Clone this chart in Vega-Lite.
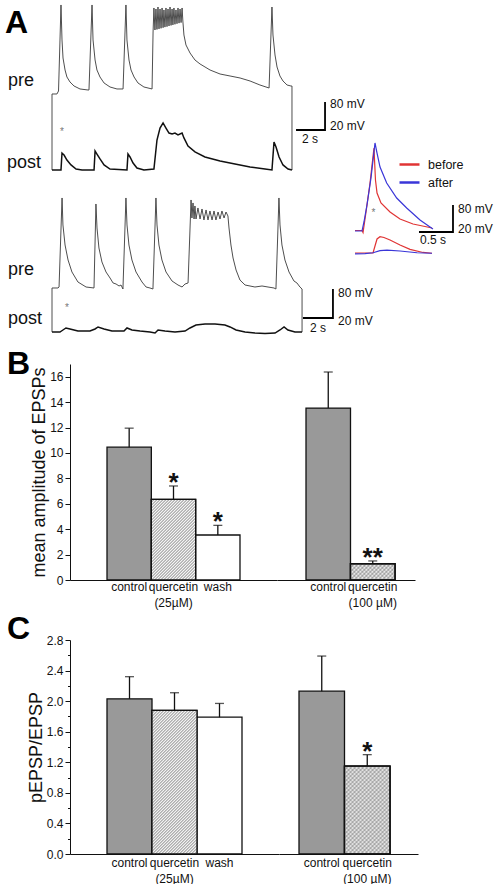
{
"$schema":"https://vega.github.io/schema/vega-lite/v6.json",
"background":"white",
"padding":{"left":5,"top":0,"right":0,"bottom":0},
"bounds":"flush",
"spacing":60,
"config":{"view":{"stroke":null},"font":"Liberation Sans","axis":{"labelFont":"Liberation Sans","titleFont":"Liberation Sans"},"axisY":{"labelOverlap":false,"labelBound":false},"legend":{"labelFont":"Liberation Sans"},"title":{"font":"Liberation Sans"}},
"datasets":{
"pre1":[{"t":0,"v":-228.6},{"t":0,"v":-11.4},{"t":0.34,"v":-11.4},{"t":0.45,"v":-2.9},{"t":0.62,"v":242.9},{"t":0.69,"v":142.9},{"t":0.76,"v":91.4},{"t":0.9,"v":57.1},{"t":1.03,"v":37.1},{"t":1.24,"v":22.9},{"t":1.52,"v":11.4},{"t":1.93,"v":2.9},{"t":2.48,"v":0},{"t":2.55,"v":0},{"t":2.76,"v":242.9},{"t":2.83,"v":142.9},{"t":2.97,"v":85.7},{"t":3.1,"v":57.1},{"t":3.31,"v":37.1},{"t":3.59,"v":20},{"t":4.0,"v":8.6},{"t":4.48,"v":2.9},{"t":4.9,"v":2.9},{"t":5.1,"v":242.9},{"t":5.17,"v":142.9},{"t":5.31,"v":85.7},{"t":5.45,"v":57.1},{"t":5.66,"v":37.1},{"t":5.93,"v":20},{"t":6.34,"v":8.6},{"t":6.9,"v":2.9},{"t":6.97,"v":165.7},{"t":7.03,"v":234.3},{"t":7.1,"v":171.4},{"t":7.17,"v":231.4},{"t":7.24,"v":173.1},{"t":7.31,"v":237.1},{"t":7.38,"v":174.6},{"t":7.45,"v":231.4},{"t":7.52,"v":176.3},{"t":7.59,"v":234.3},{"t":7.66,"v":178},{"t":7.72,"v":228.6},{"t":7.79,"v":179.7},{"t":7.86,"v":234.3},{"t":7.93,"v":181.1},{"t":8.0,"v":231.4},{"t":8.07,"v":182.9},{"t":8.14,"v":237.1},{"t":8.21,"v":184.6},{"t":8.28,"v":231.4},{"t":8.34,"v":186},{"t":8.41,"v":234.3},{"t":8.48,"v":187.7},{"t":8.55,"v":228.6},{"t":8.62,"v":189.4},{"t":8.69,"v":234.3},{"t":8.76,"v":191.1},{"t":8.83,"v":231.4},{"t":8.9,"v":192.6},{"t":8.97,"v":234.3},{"t":9.03,"v":194.3},{"t":9.1,"v":157.1},{"t":9.24,"v":128.6},{"t":9.52,"v":105.7},{"t":9.86,"v":85.7},{"t":10.21,"v":74.3},{"t":10.9,"v":57.1},{"t":11.59,"v":45.7},{"t":12.28,"v":40},{"t":12.97,"v":34.3},{"t":13.66,"v":25.7},{"t":14.34,"v":14.3},{"t":14.97,"v":5.7},{"t":15.17,"v":237.1},{"t":15.24,"v":157.1},{"t":15.38,"v":100},{"t":15.52,"v":65.7},{"t":15.72,"v":40},{"t":15.93,"v":25.7},{"t":16.21,"v":14.3},{"t":16.48,"v":11.4},{"t":16.55,"v":11.4},{"t":16.55,"v":-228.6}],
"post1":[{"t":0,"v":0},{"t":0.62,"v":0},{"t":0.69,"v":12.1},{"t":0.83,"v":10.7},{"t":1.03,"v":7.1},{"t":1.31,"v":3.6},{"t":1.66,"v":0.7},{"t":2.07,"v":0},{"t":2.9,"v":0},{"t":2.97,"v":13.6},{"t":3.1,"v":11.4},{"t":3.31,"v":7.9},{"t":3.59,"v":3.6},{"t":4.0,"v":0.7},{"t":5.17,"v":0},{"t":5.24,"v":11.4},{"t":5.38,"v":9.3},{"t":5.59,"v":5},{"t":5.86,"v":1.4},{"t":6.34,"v":0},{"t":7.03,"v":0.7},{"t":7.24,"v":21.4},{"t":7.45,"v":30},{"t":7.66,"v":33.6},{"t":7.86,"v":30},{"t":8.07,"v":26.4},{"t":8.28,"v":25.7},{"t":8.48,"v":26.4},{"t":8.69,"v":25},{"t":8.97,"v":26.4},{"t":9.1,"v":22.9},{"t":9.38,"v":17.1},{"t":9.86,"v":12.9},{"t":10.55,"v":9.3},{"t":11.59,"v":6.4},{"t":12.62,"v":4.3},{"t":13.66,"v":2.1},{"t":14.69,"v":0.7},{"t":15.17,"v":0},{"t":15.31,"v":20},{"t":15.45,"v":16.4},{"t":15.66,"v":9.3},{"t":15.93,"v":3.6},{"t":16.28,"v":0.7},{"t":16.55,"v":0}],
"pre2":[{"t":0,"v":-118.6},{"t":0,"v":2.8},{"t":0.4,"v":2.8},{"t":0.47,"v":5.5},{"t":0.67,"v":251.1},{"t":0.73,"v":176.6},{"t":0.87,"v":121.4},{"t":1.07,"v":80},{"t":1.33,"v":46.9},{"t":1.73,"v":19.3},{"t":2.27,"v":5.5},{"t":2.8,"v":2.8},{"t":2.93,"v":234.5},{"t":3.0,"v":168.3},{"t":3.13,"v":113.1},{"t":3.33,"v":74.5},{"t":3.6,"v":46.9},{"t":3.87,"v":30.3},{"t":4.07,"v":16.6},{"t":4.27,"v":13.8},{"t":4.47,"v":8.3},{"t":4.6,"v":11},{"t":4.73,"v":0},{"t":4.93,"v":251.1},{"t":5.0,"v":176.6},{"t":5.13,"v":121.4},{"t":5.33,"v":80},{"t":5.6,"v":46.9},{"t":6.0,"v":19.3},{"t":6.27,"v":5.5},{"t":6.53,"v":2.8},{"t":6.73,"v":0},{"t":6.93,"v":251.1},{"t":7.0,"v":176.6},{"t":7.13,"v":121.4},{"t":7.33,"v":80},{"t":7.6,"v":46.9},{"t":8.0,"v":22.1},{"t":8.4,"v":11},{"t":8.67,"v":5.5},{"t":8.87,"v":13.8},{"t":9.07,"v":16.6},{"t":9.27,"v":245.6},{"t":9.33,"v":195.9},{"t":9.4,"v":237.3},{"t":9.47,"v":193.1},{"t":9.53,"v":229},{"t":9.6,"v":193.1},{"t":9.73,"v":223.5},{"t":9.87,"v":193.1},{"t":10.0,"v":220.7},{"t":10.13,"v":190.4},{"t":10.27,"v":218},{"t":10.4,"v":190.4},{"t":10.53,"v":215.2},{"t":10.67,"v":190.4},{"t":10.8,"v":215.2},{"t":10.93,"v":190.4},{"t":11.07,"v":212.4},{"t":11.2,"v":193.1},{"t":11.33,"v":215.2},{"t":11.47,"v":195.9},{"t":11.6,"v":212.4},{"t":11.73,"v":201.4},{"t":11.8,"v":168.3},{"t":11.93,"v":121.4},{"t":12.07,"v":85.5},{"t":12.27,"v":52.4},{"t":12.53,"v":24.8},{"t":12.87,"v":11},{"t":13.53,"v":5.5},{"t":14.0,"v":8.3},{"t":14.4,"v":5.5},{"t":14.8,"v":2.8},{"t":14.93,"v":0},{"t":15.13,"v":251.1},{"t":15.2,"v":176.6},{"t":15.33,"v":121.4},{"t":15.53,"v":80},{"t":15.8,"v":46.9},{"t":16.13,"v":22.1},{"t":16.33,"v":16.6},{"t":16.53,"v":5.5},{"t":16.67,"v":0},{"t":16.67,"v":-118.6}],
"post2":[{"t":0,"v":-1.4},{"t":0.53,"v":-1.4},{"t":0.73,"v":0},{"t":0.93,"v":1.4},{"t":1.2,"v":0.7},{"t":1.73,"v":-0.7},{"t":2.53,"v":-0.7},{"t":2.87,"v":0.7},{"t":3.07,"v":2.1},{"t":3.47,"v":0.7},{"t":4.0,"v":-0.7},{"t":4.8,"v":-0.7},{"t":5.0,"v":1.4},{"t":5.33,"v":0},{"t":5.87,"v":-0.7},{"t":6.53,"v":-1.4},{"t":6.87,"v":-2.1},{"t":7.07,"v":0},{"t":7.53,"v":-0.7},{"t":8.2,"v":-1.4},{"t":8.87,"v":-0.7},{"t":9.2,"v":1.4},{"t":9.6,"v":3.4},{"t":10.2,"v":4.1},{"t":10.87,"v":4.1},{"t":11.53,"v":3.4},{"t":11.87,"v":2.1},{"t":12.27,"v":0},{"t":12.87,"v":-1.4},{"t":13.53,"v":-2.1},{"t":14.2,"v":-2.4},{"t":14.87,"v":-2.1},{"t":15.2,"v":0},{"t":15.47,"v":2.1},{"t":15.73,"v":0},{"t":16.2,"v":-1.4},{"t":16.67,"v":-1.4}],
"insetPre":[{"cond":"before","t":0,"v":0},{"cond":"before","t":0.103,"v":0},{"cond":"before","t":0.118,"v":-5.9},{"cond":"before","t":0.162,"v":54.8},{"cond":"before","t":0.221,"v":140.7},{"cond":"before","t":0.279,"v":244.4},{"cond":"before","t":0.301,"v":149.6},{"cond":"before","t":0.324,"v":111.1},{"cond":"before","t":0.382,"v":81.5},{"cond":"before","t":0.515,"v":54.8},{"cond":"before","t":0.662,"v":34.1},{"cond":"before","t":0.853,"v":19.3},{"cond":"before","t":1.029,"v":11.9},{"cond":"before","t":1.132,"v":7.4},
{"cond":"after","t":0,"v":-1.5},{"cond":"after","t":0.103,"v":-1.5},{"cond":"after","t":0.132,"v":25.2},{"cond":"after","t":0.176,"v":75.6},{"cond":"after","t":0.235,"v":155.6},{"cond":"after","t":0.294,"v":259.3},{"cond":"after","t":0.324,"v":229.6},{"cond":"after","t":0.368,"v":188.1},{"cond":"after","t":0.466,"v":140.7},{"cond":"after","t":0.613,"v":96.3},{"cond":"after","t":0.76,"v":66.7},{"cond":"after","t":0.956,"v":31.1},{"cond":"after","t":1.103,"v":10.4},{"cond":"after","t":1.147,"v":4.4}],
"insetPost":[{"cond":"before","t":0,"v":0},{"cond":"before","t":0.265,"v":0},{"cond":"before","t":0.294,"v":5.2},{"cond":"before","t":0.324,"v":10.4},{"cond":"before","t":0.368,"v":12.1},{"cond":"before","t":0.426,"v":11.5},{"cond":"before","t":0.515,"v":9.6},{"cond":"before","t":0.662,"v":5.9},{"cond":"before","t":0.809,"v":2.7},{"cond":"before","t":1.0,"v":0.4},{"cond":"before","t":1.132,"v":-0.2},
{"cond":"after","t":0,"v":-0.7},{"cond":"after","t":0.147,"v":-0.4},{"cond":"after","t":0.265,"v":0.2},{"cond":"after","t":0.368,"v":1.7},{"cond":"after","t":0.471,"v":2.2},{"cond":"after","t":0.662,"v":1.5},{"cond":"after","t":0.912,"v":0.2},{"cond":"after","t":1.132,"v":-0.2}],
"bar1":[{"t":16.83,"v":-114.3},{"t":18.83,"v":-114.3},{"t":18.83,"v":-34.3}],
"bar2":[{"t":16.73,"v":-80},{"t":18.73,"v":-80},{"t":18.73,"v":0}],
"barI":[{"t":0.941,"v":-4.4},{"t":1.441,"v":-4.4},{"t":1.441,"v":75.6}],
"names1":[{"t":-3.03,"v":11.4,"label":"pre"},{"t":-3.1,"v":-222.9,"label":"post"}],
"names2":[{"t":-2.93,"v":38.6,"label":"pre"},{"t":-2.93,"v":-97.9,"label":"post"}],
"letterA":[{"t":-3.24,"v":162.9,"label":"A"}],
"scale1":[{"t":19.17,"v":-41.4,"label":"80 mV"},{"t":19.17,"v":-102.9,"label":"20 mV"},{"t":17.24,"v":-140,"label":"2 s"}],
"scale2":[{"t":19.07,"v":-11,"label":"80 mV"},{"t":19.07,"v":-86.9,"label":"20 mV"},{"t":17.2,"v":-107.6,"label":"2 s"}],
"scaleI":[{"t":1.515,"v":63.7,"label":"80 mV"},{"t":1.515,"v":4.4,"label":"20 mV"},{"t":0.956,"v":-28.1,"label":"0.5 s"}],
"star1":[{"t":0.69,"v":-120,"label":"*"}],
"star2":[{"t":1.0,"v":-52.4,"label":"*"}],
"starI":[{"t":0.272,"v":51.9,"label":"*"}],
"amp":[{"grp":"25µM","cond":"control","mean":10.45,"upper":11.95,"sig":""},{"grp":"25µM","cond":"quercetin","mean":6.35,"upper":7.4,"sig":"*"},{"grp":"25µM","cond":"wash","mean":3.54,"upper":4.3,"sig":"*"},{"grp":"100µM","cond":"control","mean":13.53,"upper":16.37,"sig":""},{"grp":"100µM","cond":"quercetin","mean":1.28,"upper":1.5,"sig":"**"}],
"ratio":[{"grp":"25µM","cond":"control","mean":2.03,"upper":2.32,"sig":""},{"grp":"25µM","cond":"quercetin","mean":1.88,"upper":2.11,"sig":""},{"grp":"25µM","cond":"wash","mean":1.79,"upper":1.97,"sig":""},{"grp":"100µM","cond":"control","mean":2.13,"upper":2.59,"sig":""},{"grp":"100µM","cond":"quercetin","mean":1.15,"upper":1.3,"sig":"*"}]
},
"vconcat":[
{
 "width":428,"height":304,
 "resolve":{"scale":{"x":"independent","y":"independent"}},
 "layer":[
  {
   "encoding":{"x":{"field":"t","type":"quantitative","scale":{"domain":[1.2414,30.7586],"nice":false,"zero":false},"axis":null},"y":{"field":"v","type":"quantitative","scale":{"domain":[-611.43,257.14],"nice":false,"zero":false},"axis":null}},
   "layer":[
    {"data":{"name":"pre1"},"mark":{"type":"line","order":false,"color":"#3a3a3a","strokeWidth":0.9}},
    {"data":{"name":"bar1"},"mark":{"type":"line","order":false,"color":"#000000","strokeWidth":1.8}},
    {"data":{"name":"names1"},"mark":{"type":"text","align":"left","baseline":"alphabetic","fontSize":18,"color":"#111111"},"encoding":{"text":{"field":"label"}}},
    {"data":{"name":"letterA"},"mark":{"type":"text","align":"left","baseline":"alphabetic","fontSize":32,"fontWeight":"bold","color":"#000000"},"encoding":{"text":{"field":"label"}}},
    {"data":{"name":"scale1"},"mark":{"type":"text","align":"left","baseline":"middle","fontSize":12,"color":"#111111"},"encoding":{"text":{"field":"label"}}},
    {"data":{"name":"star1"},"mark":{"type":"text","align":"center","baseline":"middle","fontSize":10,"color":"#777777"},"encoding":{"text":{"field":"label"}}}
   ]
  },
  {
   "data":{"name":"post1"},
   "mark":{"type":"line","order":false,"color":"#111111","strokeWidth":1.5},
   "encoding":{"x":{"field":"t","type":"quantitative","scale":{"domain":[1.2414,30.7586],"nice":false,"zero":false},"axis":null},"y":{"field":"v","type":"quantitative","scale":{"domain":[-95.714,121.429],"nice":false,"zero":false},"axis":null}}
  },
  {
   "encoding":{"x":{"field":"t","type":"quantitative","scale":{"domain":[1.2,29.7333],"nice":false,"zero":false},"axis":null},"y":{"field":"v","type":"quantitative","scale":{"domain":[-41.379,797.241],"nice":false,"zero":false},"axis":null}},
   "layer":[
    {"data":{"name":"pre2"},"mark":{"type":"line","order":false,"color":"#3a3a3a","strokeWidth":0.9}},
    {"data":{"name":"bar2"},"mark":{"type":"line","order":false,"color":"#000000","strokeWidth":1.8}},
    {"data":{"name":"names2"},"mark":{"type":"text","align":"left","baseline":"alphabetic","fontSize":18,"color":"#111111"},"encoding":{"text":{"field":"label"}}},
    {"data":{"name":"scale2"},"mark":{"type":"text","align":"left","baseline":"middle","fontSize":12,"color":"#111111"},"encoding":{"text":{"field":"label"}}},
    {"data":{"name":"star2"},"mark":{"type":"text","align":"center","baseline":"middle","fontSize":10,"color":"#777777"},"encoding":{"text":{"field":"label"}}}
   ]
  },
  {
   "data":{"name":"post2"},
   "mark":{"type":"line","order":false,"color":"#111111","strokeWidth":1.5},
   "encoding":{"x":{"field":"t","type":"quantitative","scale":{"domain":[1.2,29.7333],"nice":false,"zero":false},"axis":null},"y":{"field":"v","type":"quantitative","scale":{"domain":[17.931,227.586],"nice":false,"zero":false},"axis":null}}
  },
  {
   "encoding":{"x":{"field":"t","type":"quantitative","scale":{"domain":[-4.1912,2.1029],"nice":false,"zero":false},"axis":null},"y":{"field":"v","type":"quantitative","scale":{"domain":[-217.778,682.963],"nice":false,"zero":false},"axis":null}},
   "layer":[
    {"data":{"name":"insetPre"},"mark":{"type":"line","order":false,"strokeWidth":1.2},
     "encoding":{"color":{"field":"cond","type":"nominal","scale":{"domain":["before","after"],"range":["#e03434","#3a36d8"]},"legend":{"title":null,"orient":"none","legendX":328,"legendY":153,"symbolType":"stroke","symbolSize":400,"symbolStrokeWidth":2.5,"labelFontSize":12.5,"labelOffset":7,"rowPadding":-2,"padding":0,"labelColor":"#111111"}}}},
    {"data":{"name":"barI"},"mark":{"type":"line","order":false,"color":"#000000","strokeWidth":1.8}},
    {"data":{"name":"scaleI"},"mark":{"type":"text","align":"left","baseline":"middle","fontSize":12,"color":"#111111"},"encoding":{"text":{"field":"label"}}},
    {"data":{"name":"starI"},"mark":{"type":"text","align":"center","baseline":"middle","fontSize":10,"color":"#777777"},"encoding":{"text":{"field":"label"}}}
   ]
  },
  {
   "data":{"name":"insetPost"},
   "mark":{"type":"line","order":false,"strokeWidth":1.2},
   "encoding":{"x":{"field":"t","type":"quantitative","scale":{"domain":[-4.1912,2.1029],"nice":false,"zero":false},"axis":null},"y":{"field":"v","type":"quantitative","scale":{"domain":[-37.778,187.407],"nice":false,"zero":false},"axis":null},
    "color":{"field":"cond","type":"nominal","scale":{"domain":["before","after"],"range":["#e03434","#3a36d8"]},"legend":{"title":null,"orient":"none","legendX":328,"legendY":153,"symbolType":"stroke","symbolSize":400,"symbolStrokeWidth":2.5,"labelFontSize":12.5,"labelOffset":7,"rowPadding":-2,"padding":0,"labelColor":"#111111"}}}
  }
 ]
},
{
 "vconcat":[
 {
 "hconcat":[
  {
   "width":207,"height":216,
   "title":{"text":"B","anchor":"start","frame":"group","fontSize":32,"fontWeight":"bold","color":"#000000","offset":0,"dx":-63,"dy":42,"baseline":"alphabetic"},
   "data":{"name":"amp"},
   "transform":[{"filter":"datum.grp == '25µM'"}],
   "resolve":{"axis":{"y":"independent"}},
   "encoding":{"x":{"field":"cond","type":"nominal","sort":["control","quercetin","wash"],"scale":{"paddingInner":0,"paddingOuter":0.8347,"align":0.5},"axis":{"title":null,"ticks":false,"tickSize":0,"labelAngle":0,"labelFontSize":12,"labelColor":"#111111","labelPadding":1,"labelLineHeight":16,"domainColor":"#111111","domainWidth":1,"labelExpr":"datum.value == 'quercetin' ? ['quercetin', '(25µM)'] : datum.value"}}},
   "layer":[
    {"mark":{"type":"bar","stroke":"#111111","strokeWidth":1.3},
     "encoding":{"y":{"field":"mean","type":"quantitative","scale":{"domain":[0,17],"nice":false},"axis":{"orient":"left","title":"mean amplitude of EPSPs","titleFontSize":18,"titleFontWeight":"normal","titleColor":"#111111","titlePadding":1,"values":[0,2,4,6,8,10,12,14,16],"labelOverlap":false,"labelFontSize":12,"labelColor":"#111111","tickSize":5,"tickColor":"#111111","domainColor":"#111111","grid":false,"labelPadding":2}},
      "fill":{"condition":[{"test":"datum.cond == 'control'","value":"#999999"}],"value":"#ffffff"}}},
    {"transform":[{"filter":"datum.cond == 'quercetin'"}],
     "mark":{"type":"bar","stroke":"#111111","strokeWidth":1.3,"fill":{"gradient":"linear","x1":0,"y1":0,"x2":0.6591,"y2":1.1996,"stops":[{"offset":0,"color":"#9a9a9a"},{"offset":0.0119,"color":"#ffffff"},{"offset":0.0238,"color":"#9a9a9a"},{"offset":0.0357,"color":"#ffffff"},{"offset":0.0476,"color":"#9a9a9a"},{"offset":0.0595,"color":"#ffffff"},{"offset":0.0714,"color":"#9a9a9a"},{"offset":0.0833,"color":"#ffffff"},{"offset":0.0952,"color":"#9a9a9a"},{"offset":0.1071,"color":"#ffffff"},{"offset":0.119,"color":"#9a9a9a"},{"offset":0.131,"color":"#ffffff"},{"offset":0.1429,"color":"#9a9a9a"},{"offset":0.1548,"color":"#ffffff"},{"offset":0.1667,"color":"#9a9a9a"},{"offset":0.1786,"color":"#ffffff"},{"offset":0.1905,"color":"#9a9a9a"},{"offset":0.2024,"color":"#ffffff"},{"offset":0.2143,"color":"#9a9a9a"},{"offset":0.2262,"color":"#ffffff"},{"offset":0.2381,"color":"#9a9a9a"},{"offset":0.25,"color":"#ffffff"},{"offset":0.2619,"color":"#9a9a9a"},{"offset":0.2738,"color":"#ffffff"},{"offset":0.2857,"color":"#9a9a9a"},{"offset":0.2976,"color":"#ffffff"},{"offset":0.3095,"color":"#9a9a9a"},{"offset":0.3214,"color":"#ffffff"},{"offset":0.3333,"color":"#9a9a9a"},{"offset":0.3452,"color":"#ffffff"},{"offset":0.3571,"color":"#9a9a9a"},{"offset":0.369,"color":"#ffffff"},{"offset":0.381,"color":"#9a9a9a"},{"offset":0.3929,"color":"#ffffff"},{"offset":0.4048,"color":"#9a9a9a"},{"offset":0.4167,"color":"#ffffff"},{"offset":0.4286,"color":"#9a9a9a"},{"offset":0.4405,"color":"#ffffff"},{"offset":0.4524,"color":"#9a9a9a"},{"offset":0.4643,"color":"#ffffff"},{"offset":0.4762,"color":"#9a9a9a"},{"offset":0.4881,"color":"#ffffff"},{"offset":0.5,"color":"#9a9a9a"},{"offset":0.5119,"color":"#ffffff"},{"offset":0.5238,"color":"#9a9a9a"},{"offset":0.5357,"color":"#ffffff"},{"offset":0.5476,"color":"#9a9a9a"},{"offset":0.5595,"color":"#ffffff"},{"offset":0.5714,"color":"#9a9a9a"},{"offset":0.5833,"color":"#ffffff"},{"offset":0.5952,"color":"#9a9a9a"},{"offset":0.6071,"color":"#ffffff"},{"offset":0.619,"color":"#9a9a9a"},{"offset":0.631,"color":"#ffffff"},{"offset":0.6429,"color":"#9a9a9a"},{"offset":0.6548,"color":"#ffffff"},{"offset":0.6667,"color":"#9a9a9a"},{"offset":0.6786,"color":"#ffffff"},{"offset":0.6905,"color":"#9a9a9a"},{"offset":0.7024,"color":"#ffffff"},{"offset":0.7143,"color":"#9a9a9a"},{"offset":0.7262,"color":"#ffffff"},{"offset":0.7381,"color":"#9a9a9a"},{"offset":0.75,"color":"#ffffff"},{"offset":0.7619,"color":"#9a9a9a"},{"offset":0.7738,"color":"#ffffff"},{"offset":0.7857,"color":"#9a9a9a"},{"offset":0.7976,"color":"#ffffff"},{"offset":0.8095,"color":"#9a9a9a"},{"offset":0.8214,"color":"#ffffff"},{"offset":0.8333,"color":"#9a9a9a"},{"offset":0.8452,"color":"#ffffff"},{"offset":0.8571,"color":"#9a9a9a"},{"offset":0.869,"color":"#ffffff"},{"offset":0.881,"color":"#9a9a9a"},{"offset":0.8929,"color":"#ffffff"},{"offset":0.9048,"color":"#9a9a9a"},{"offset":0.9167,"color":"#ffffff"},{"offset":0.9286,"color":"#9a9a9a"},{"offset":0.9405,"color":"#ffffff"},{"offset":0.9524,"color":"#9a9a9a"},{"offset":0.9643,"color":"#ffffff"},{"offset":0.9762,"color":"#9a9a9a"},{"offset":0.9881,"color":"#ffffff"},{"offset":1,"color":"#9a9a9a"}]}},
     "encoding":{"y":{"field":"mean","type":"quantitative","axis":null}}},
    {"mark":{"type":"rule","color":"#111111","strokeWidth":1.3},"encoding":{"y":{"field":"mean","type":"quantitative","axis":null},"y2":{"field":"upper"}}},
    {"mark":{"type":"tick","color":"#111111","size":9,"thickness":1.3},"encoding":{"y":{"field":"upper","type":"quantitative","axis":null}}},
    {"mark":{"type":"text","fontSize":26,"fontWeight":"bold","dy":5,"baseline":"alphabetic","color":"#111111"},"encoding":{"y":{"field":"upper","type":"quantitative","axis":null},"text":{"field":"sig"}}}
   ]
  },
  {
   "width":138,"height":216,
   "data":{"name":"amp"},
   "transform":[{"filter":"datum.grp == '100µM'"}],
   "encoding":{"x":{"field":"cond","type":"nominal","sort":["control","quercetin"],"scale":{"paddingInner":0,"paddingOuter":0.5506,"align":0.5918},"axis":{"title":null,"ticks":false,"tickSize":0,"labelAngle":0,"labelFontSize":12,"labelColor":"#111111","labelPadding":1,"labelLineHeight":16,"domainColor":"#111111","domainWidth":1,"labelExpr":"datum.value == 'quercetin' ? ['quercetin', '(100 µM)'] : datum.value"}}},
   "layer":[
    {"mark":{"type":"bar","stroke":"#111111","strokeWidth":1.3},
     "encoding":{"y":{"field":"mean","type":"quantitative","scale":{"domain":[0,17],"nice":false},"axis":null},
      "fill":{"condition":[{"test":"datum.cond == 'control'","value":"#999999"}],"value":"#ffffff"}}},
    {"transform":[{"filter":"datum.cond == 'quercetin'"}],
     "mark":{"type":"bar","stroke":"#111111","strokeWidth":1.3,"fill":{"gradient":"linear","x1":0,"y1":0,"x2":1.2688,"y2":0.4636,"stops":[{"offset":0,"color":"#b4b4b4"},{"offset":0.03125,"color":"#ffffff"},{"offset":0.0625,"color":"#b4b4b4"},{"offset":0.09375,"color":"#ffffff"},{"offset":0.125,"color":"#b4b4b4"},{"offset":0.15625,"color":"#ffffff"},{"offset":0.1875,"color":"#b4b4b4"},{"offset":0.21875,"color":"#ffffff"},{"offset":0.25,"color":"#b4b4b4"},{"offset":0.28125,"color":"#ffffff"},{"offset":0.3125,"color":"#b4b4b4"},{"offset":0.34375,"color":"#ffffff"},{"offset":0.375,"color":"#b4b4b4"},{"offset":0.40625,"color":"#ffffff"},{"offset":0.4375,"color":"#b4b4b4"},{"offset":0.46875,"color":"#ffffff"},{"offset":0.5,"color":"#b4b4b4"},{"offset":0.53125,"color":"#ffffff"},{"offset":0.5625,"color":"#b4b4b4"},{"offset":0.59375,"color":"#ffffff"},{"offset":0.625,"color":"#b4b4b4"},{"offset":0.65625,"color":"#ffffff"},{"offset":0.6875,"color":"#b4b4b4"},{"offset":0.71875,"color":"#ffffff"},{"offset":0.75,"color":"#b4b4b4"},{"offset":0.78125,"color":"#ffffff"},{"offset":0.8125,"color":"#b4b4b4"},{"offset":0.84375,"color":"#ffffff"},{"offset":0.875,"color":"#b4b4b4"},{"offset":0.90625,"color":"#ffffff"},{"offset":0.9375,"color":"#b4b4b4"},{"offset":0.96875,"color":"#ffffff"},{"offset":1,"color":"#b4b4b4"}]}},
     "encoding":{"y":{"field":"mean","type":"quantitative"}}},
    {"transform":[{"filter":"datum.cond == 'quercetin'"}],
     "mark":{"type":"bar","stroke":"#111111","strokeWidth":1.3,"fill":{"gradient":"linear","x1":0,"y1":1,"x2":1.2688,"y2":0.5364,"stops":[{"offset":0,"color":"rgba(90,90,90,0.35)"},{"offset":0.03125,"color":"rgba(90,90,90,0)"},{"offset":0.0625,"color":"rgba(90,90,90,0.35)"},{"offset":0.09375,"color":"rgba(90,90,90,0)"},{"offset":0.125,"color":"rgba(90,90,90,0.35)"},{"offset":0.15625,"color":"rgba(90,90,90,0)"},{"offset":0.1875,"color":"rgba(90,90,90,0.35)"},{"offset":0.21875,"color":"rgba(90,90,90,0)"},{"offset":0.25,"color":"rgba(90,90,90,0.35)"},{"offset":0.28125,"color":"rgba(90,90,90,0)"},{"offset":0.3125,"color":"rgba(90,90,90,0.35)"},{"offset":0.34375,"color":"rgba(90,90,90,0)"},{"offset":0.375,"color":"rgba(90,90,90,0.35)"},{"offset":0.40625,"color":"rgba(90,90,90,0)"},{"offset":0.4375,"color":"rgba(90,90,90,0.35)"},{"offset":0.46875,"color":"rgba(90,90,90,0)"},{"offset":0.5,"color":"rgba(90,90,90,0.35)"},{"offset":0.53125,"color":"rgba(90,90,90,0)"},{"offset":0.5625,"color":"rgba(90,90,90,0.35)"},{"offset":0.59375,"color":"rgba(90,90,90,0)"},{"offset":0.625,"color":"rgba(90,90,90,0.35)"},{"offset":0.65625,"color":"rgba(90,90,90,0)"},{"offset":0.6875,"color":"rgba(90,90,90,0.35)"},{"offset":0.71875,"color":"rgba(90,90,90,0)"},{"offset":0.75,"color":"rgba(90,90,90,0.35)"},{"offset":0.78125,"color":"rgba(90,90,90,0)"},{"offset":0.8125,"color":"rgba(90,90,90,0.35)"},{"offset":0.84375,"color":"rgba(90,90,90,0)"},{"offset":0.875,"color":"rgba(90,90,90,0.35)"},{"offset":0.90625,"color":"rgba(90,90,90,0)"},{"offset":0.9375,"color":"rgba(90,90,90,0.35)"},{"offset":0.96875,"color":"rgba(90,90,90,0)"},{"offset":1,"color":"rgba(90,90,90,0.35)"}]}},
     "encoding":{"y":{"field":"mean","type":"quantitative"}}},
    {"mark":{"type":"rule","color":"#111111","strokeWidth":1.3},"encoding":{"y":{"field":"mean","type":"quantitative"},"y2":{"field":"upper"}}},
    {"mark":{"type":"tick","color":"#111111","size":9,"thickness":1.3},"encoding":{"y":{"field":"upper","type":"quantitative"}}},
    {"mark":{"type":"text","fontSize":26,"fontWeight":"bold","dy":5,"baseline":"alphabetic","color":"#111111"},"encoding":{"y":{"field":"upper","type":"quantitative"},"text":{"field":"sig"}}}
   ]
  }
 ],
 "spacing":0,
 "bounds":"flush"
 },
 {
 "hconcat":[
  {
   "width":209,"height":214,
   "title":{"text":"C","anchor":"start","frame":"group","fontSize":32,"fontWeight":"bold","color":"#000000","offset":0,"dx":-63,"dy":37,"baseline":"alphabetic"},
   "data":{"name":"ratio"},
   "transform":[{"filter":"datum.grp == '25µM'"}],
   "resolve":{"axis":{"y":"independent"}},
   "encoding":{"x":{"field":"cond","type":"nominal","sort":["control","quercetin","wash"],"scale":{"paddingInner":0,"paddingOuter":0.8222,"align":0.5},"axis":{"title":null,"ticks":false,"tickSize":0,"labelAngle":0,"labelFontSize":12,"labelColor":"#111111","labelPadding":3,"labelLineHeight":16,"domainColor":"#111111","domainWidth":1,"labelExpr":"datum.value == 'quercetin' ? ['quercetin', '(25µM)'] : datum.value"}}},
   "layer":[
    {"mark":{"type":"bar","stroke":"#111111","strokeWidth":1.3},
     "encoding":{"y":{"field":"mean","type":"quantitative","scale":{"domain":[0,2.8],"nice":false},"axis":{"orient":"left","title":"pEPSP/EPSP","titleFontSize":18,"titleFontWeight":"normal","titleColor":"#111111","titlePadding":1,"values":[0,0.2,0.4,0.6,0.8,1.0,1.2,1.4,1.6,1.8,2.0,2.2,2.4,2.6,2.8],"labelOverlap":false,"labelExpr":"round(datum.value*10) % 4 == 0 ? format(datum.value, '.1f') : ''","labelFontSize":12,"labelColor":"#111111","tickSize":{"condition":{"test":"round(datum.value*10) % 4 == 0","value":5},"value":2.5},"tickColor":"#111111","domainColor":"#111111","grid":false,"labelPadding":2}},
      "fill":{"condition":[{"test":"datum.cond == 'control'","value":"#999999"}],"value":"#ffffff"}}},
    {"transform":[{"filter":"datum.cond == 'quercetin'"}],
     "mark":{"type":"bar","stroke":"#111111","strokeWidth":1.3,"fill":{"gradient":"linear","x1":0,"y1":0,"x2":0.3751,"y2":1.1978,"stops":[{"offset":0,"color":"#9a9a9a"},{"offset":0.0079,"color":"#ffffff"},{"offset":0.0159,"color":"#9a9a9a"},{"offset":0.0238,"color":"#ffffff"},{"offset":0.0317,"color":"#9a9a9a"},{"offset":0.0397,"color":"#ffffff"},{"offset":0.0476,"color":"#9a9a9a"},{"offset":0.0556,"color":"#ffffff"},{"offset":0.0635,"color":"#9a9a9a"},{"offset":0.0714,"color":"#ffffff"},{"offset":0.0794,"color":"#9a9a9a"},{"offset":0.0873,"color":"#ffffff"},{"offset":0.0952,"color":"#9a9a9a"},{"offset":0.1032,"color":"#ffffff"},{"offset":0.1111,"color":"#9a9a9a"},{"offset":0.119,"color":"#ffffff"},{"offset":0.127,"color":"#9a9a9a"},{"offset":0.1349,"color":"#ffffff"},{"offset":0.1429,"color":"#9a9a9a"},{"offset":0.1508,"color":"#ffffff"},{"offset":0.1587,"color":"#9a9a9a"},{"offset":0.1667,"color":"#ffffff"},{"offset":0.1746,"color":"#9a9a9a"},{"offset":0.1825,"color":"#ffffff"},{"offset":0.1905,"color":"#9a9a9a"},{"offset":0.1984,"color":"#ffffff"},{"offset":0.2063,"color":"#9a9a9a"},{"offset":0.2143,"color":"#ffffff"},{"offset":0.2222,"color":"#9a9a9a"},{"offset":0.2302,"color":"#ffffff"},{"offset":0.2381,"color":"#9a9a9a"},{"offset":0.246,"color":"#ffffff"},{"offset":0.254,"color":"#9a9a9a"},{"offset":0.2619,"color":"#ffffff"},{"offset":0.2698,"color":"#9a9a9a"},{"offset":0.2778,"color":"#ffffff"},{"offset":0.2857,"color":"#9a9a9a"},{"offset":0.2937,"color":"#ffffff"},{"offset":0.3016,"color":"#9a9a9a"},{"offset":0.3095,"color":"#ffffff"},{"offset":0.3175,"color":"#9a9a9a"},{"offset":0.3254,"color":"#ffffff"},{"offset":0.3333,"color":"#9a9a9a"},{"offset":0.3413,"color":"#ffffff"},{"offset":0.3492,"color":"#9a9a9a"},{"offset":0.3571,"color":"#ffffff"},{"offset":0.3651,"color":"#9a9a9a"},{"offset":0.373,"color":"#ffffff"},{"offset":0.381,"color":"#9a9a9a"},{"offset":0.3889,"color":"#ffffff"},{"offset":0.3968,"color":"#9a9a9a"},{"offset":0.4048,"color":"#ffffff"},{"offset":0.4127,"color":"#9a9a9a"},{"offset":0.4206,"color":"#ffffff"},{"offset":0.4286,"color":"#9a9a9a"},{"offset":0.4365,"color":"#ffffff"},{"offset":0.4444,"color":"#9a9a9a"},{"offset":0.4524,"color":"#ffffff"},{"offset":0.4603,"color":"#9a9a9a"},{"offset":0.4683,"color":"#ffffff"},{"offset":0.4762,"color":"#9a9a9a"},{"offset":0.4841,"color":"#ffffff"},{"offset":0.4921,"color":"#9a9a9a"},{"offset":0.5,"color":"#ffffff"},{"offset":0.5079,"color":"#9a9a9a"},{"offset":0.5159,"color":"#ffffff"},{"offset":0.5238,"color":"#9a9a9a"},{"offset":0.5317,"color":"#ffffff"},{"offset":0.5397,"color":"#9a9a9a"},{"offset":0.5476,"color":"#ffffff"},{"offset":0.5556,"color":"#9a9a9a"},{"offset":0.5635,"color":"#ffffff"},{"offset":0.5714,"color":"#9a9a9a"},{"offset":0.5794,"color":"#ffffff"},{"offset":0.5873,"color":"#9a9a9a"},{"offset":0.5952,"color":"#ffffff"},{"offset":0.6032,"color":"#9a9a9a"},{"offset":0.6111,"color":"#ffffff"},{"offset":0.619,"color":"#9a9a9a"},{"offset":0.627,"color":"#ffffff"},{"offset":0.6349,"color":"#9a9a9a"},{"offset":0.6429,"color":"#ffffff"},{"offset":0.6508,"color":"#9a9a9a"},{"offset":0.6587,"color":"#ffffff"},{"offset":0.6667,"color":"#9a9a9a"},{"offset":0.6746,"color":"#ffffff"},{"offset":0.6825,"color":"#9a9a9a"},{"offset":0.6905,"color":"#ffffff"},{"offset":0.6984,"color":"#9a9a9a"},{"offset":0.7063,"color":"#ffffff"},{"offset":0.7143,"color":"#9a9a9a"},{"offset":0.7222,"color":"#ffffff"},{"offset":0.7302,"color":"#9a9a9a"},{"offset":0.7381,"color":"#ffffff"},{"offset":0.746,"color":"#9a9a9a"},{"offset":0.754,"color":"#ffffff"},{"offset":0.7619,"color":"#9a9a9a"},{"offset":0.7698,"color":"#ffffff"},{"offset":0.7778,"color":"#9a9a9a"},{"offset":0.7857,"color":"#ffffff"},{"offset":0.7937,"color":"#9a9a9a"},{"offset":0.8016,"color":"#ffffff"},{"offset":0.8095,"color":"#9a9a9a"},{"offset":0.8175,"color":"#ffffff"},{"offset":0.8254,"color":"#9a9a9a"},{"offset":0.8333,"color":"#ffffff"},{"offset":0.8413,"color":"#9a9a9a"},{"offset":0.8492,"color":"#ffffff"},{"offset":0.8571,"color":"#9a9a9a"},{"offset":0.8651,"color":"#ffffff"},{"offset":0.873,"color":"#9a9a9a"},{"offset":0.881,"color":"#ffffff"},{"offset":0.8889,"color":"#9a9a9a"},{"offset":0.8968,"color":"#ffffff"},{"offset":0.9048,"color":"#9a9a9a"},{"offset":0.9127,"color":"#ffffff"},{"offset":0.9206,"color":"#9a9a9a"},{"offset":0.9286,"color":"#ffffff"},{"offset":0.9365,"color":"#9a9a9a"},{"offset":0.9444,"color":"#ffffff"},{"offset":0.9524,"color":"#9a9a9a"},{"offset":0.9603,"color":"#ffffff"},{"offset":0.9683,"color":"#9a9a9a"},{"offset":0.9762,"color":"#ffffff"},{"offset":0.9841,"color":"#9a9a9a"},{"offset":0.9921,"color":"#ffffff"},{"offset":1,"color":"#9a9a9a"}]}},
     "encoding":{"y":{"field":"mean","type":"quantitative","axis":null}}},
    {"mark":{"type":"rule","color":"#111111","strokeWidth":1.3},"encoding":{"y":{"field":"mean","type":"quantitative","axis":null},"y2":{"field":"upper"}}},
    {"mark":{"type":"tick","color":"#111111","size":9,"thickness":1.3},"encoding":{"y":{"field":"upper","type":"quantitative","axis":null}}},
    {"mark":{"type":"text","fontSize":26,"fontWeight":"bold","dy":5,"baseline":"alphabetic","color":"#111111"},"encoding":{"y":{"field":"upper","type":"quantitative","axis":null},"text":{"field":"sig"}}}
   ]
  },
  {
   "width":139,"height":214,
   "data":{"name":"ratio"},
   "transform":[{"filter":"datum.grp == '100µM'"}],
   "encoding":{"x":{"field":"cond","type":"nominal","sort":["control","quercetin"],"scale":{"paddingInner":0,"paddingOuter":0.5275,"align":0.4167},"axis":{"title":null,"ticks":false,"tickSize":0,"labelAngle":0,"labelFontSize":12,"labelColor":"#111111","labelPadding":3,"labelLineHeight":16,"domainColor":"#111111","domainWidth":1,"labelExpr":"datum.value == 'quercetin' ? ['quercetin', '(100 µM)'] : datum.value"}}},
   "layer":[
    {"mark":{"type":"bar","stroke":"#111111","strokeWidth":1.3},
     "encoding":{"y":{"field":"mean","type":"quantitative","scale":{"domain":[0,2.8],"nice":false},"axis":null},
      "fill":{"condition":[{"test":"datum.cond == 'control'","value":"#999999"}],"value":"#ffffff"}}},
    {"transform":[{"filter":"datum.cond == 'quercetin'"}],
     "mark":{"type":"bar","stroke":"#111111","strokeWidth":1.3,"fill":{"gradient":"linear","x1":0,"y1":0,"x2":0.6318,"y2":1.2203,"stops":[{"offset":0,"color":"#b4b4b4"},{"offset":0.0147,"color":"#ffffff"},{"offset":0.0294,"color":"#b4b4b4"},{"offset":0.0441,"color":"#ffffff"},{"offset":0.0588,"color":"#b4b4b4"},{"offset":0.0735,"color":"#ffffff"},{"offset":0.0882,"color":"#b4b4b4"},{"offset":0.1029,"color":"#ffffff"},{"offset":0.1176,"color":"#b4b4b4"},{"offset":0.1324,"color":"#ffffff"},{"offset":0.1471,"color":"#b4b4b4"},{"offset":0.1618,"color":"#ffffff"},{"offset":0.1765,"color":"#b4b4b4"},{"offset":0.1912,"color":"#ffffff"},{"offset":0.2059,"color":"#b4b4b4"},{"offset":0.2206,"color":"#ffffff"},{"offset":0.2353,"color":"#b4b4b4"},{"offset":0.25,"color":"#ffffff"},{"offset":0.2647,"color":"#b4b4b4"},{"offset":0.2794,"color":"#ffffff"},{"offset":0.2941,"color":"#b4b4b4"},{"offset":0.3088,"color":"#ffffff"},{"offset":0.3235,"color":"#b4b4b4"},{"offset":0.3382,"color":"#ffffff"},{"offset":0.3529,"color":"#b4b4b4"},{"offset":0.3676,"color":"#ffffff"},{"offset":0.3824,"color":"#b4b4b4"},{"offset":0.3971,"color":"#ffffff"},{"offset":0.4118,"color":"#b4b4b4"},{"offset":0.4265,"color":"#ffffff"},{"offset":0.4412,"color":"#b4b4b4"},{"offset":0.4559,"color":"#ffffff"},{"offset":0.4706,"color":"#b4b4b4"},{"offset":0.4853,"color":"#ffffff"},{"offset":0.5,"color":"#b4b4b4"},{"offset":0.5147,"color":"#ffffff"},{"offset":0.5294,"color":"#b4b4b4"},{"offset":0.5441,"color":"#ffffff"},{"offset":0.5588,"color":"#b4b4b4"},{"offset":0.5735,"color":"#ffffff"},{"offset":0.5882,"color":"#b4b4b4"},{"offset":0.6029,"color":"#ffffff"},{"offset":0.6176,"color":"#b4b4b4"},{"offset":0.6324,"color":"#ffffff"},{"offset":0.6471,"color":"#b4b4b4"},{"offset":0.6618,"color":"#ffffff"},{"offset":0.6765,"color":"#b4b4b4"},{"offset":0.6912,"color":"#ffffff"},{"offset":0.7059,"color":"#b4b4b4"},{"offset":0.7206,"color":"#ffffff"},{"offset":0.7353,"color":"#b4b4b4"},{"offset":0.75,"color":"#ffffff"},{"offset":0.7647,"color":"#b4b4b4"},{"offset":0.7794,"color":"#ffffff"},{"offset":0.7941,"color":"#b4b4b4"},{"offset":0.8088,"color":"#ffffff"},{"offset":0.8235,"color":"#b4b4b4"},{"offset":0.8382,"color":"#ffffff"},{"offset":0.8529,"color":"#b4b4b4"},{"offset":0.8676,"color":"#ffffff"},{"offset":0.8824,"color":"#b4b4b4"},{"offset":0.8971,"color":"#ffffff"},{"offset":0.9118,"color":"#b4b4b4"},{"offset":0.9265,"color":"#ffffff"},{"offset":0.9412,"color":"#b4b4b4"},{"offset":0.9559,"color":"#ffffff"},{"offset":0.9706,"color":"#b4b4b4"},{"offset":0.9853,"color":"#ffffff"},{"offset":1,"color":"#b4b4b4"}]}},
     "encoding":{"y":{"field":"mean","type":"quantitative"}}},
    {"transform":[{"filter":"datum.cond == 'quercetin'"}],
     "mark":{"type":"bar","stroke":"#111111","strokeWidth":1.3,"fill":{"gradient":"linear","x1":0,"y1":1,"x2":0.6318,"y2":-0.2203,"stops":[{"offset":0,"color":"rgba(90,90,90,0.35)"},{"offset":0.0147,"color":"rgba(90,90,90,0)"},{"offset":0.0294,"color":"rgba(90,90,90,0.35)"},{"offset":0.0441,"color":"rgba(90,90,90,0)"},{"offset":0.0588,"color":"rgba(90,90,90,0.35)"},{"offset":0.0735,"color":"rgba(90,90,90,0)"},{"offset":0.0882,"color":"rgba(90,90,90,0.35)"},{"offset":0.1029,"color":"rgba(90,90,90,0)"},{"offset":0.1176,"color":"rgba(90,90,90,0.35)"},{"offset":0.1324,"color":"rgba(90,90,90,0)"},{"offset":0.1471,"color":"rgba(90,90,90,0.35)"},{"offset":0.1618,"color":"rgba(90,90,90,0)"},{"offset":0.1765,"color":"rgba(90,90,90,0.35)"},{"offset":0.1912,"color":"rgba(90,90,90,0)"},{"offset":0.2059,"color":"rgba(90,90,90,0.35)"},{"offset":0.2206,"color":"rgba(90,90,90,0)"},{"offset":0.2353,"color":"rgba(90,90,90,0.35)"},{"offset":0.25,"color":"rgba(90,90,90,0)"},{"offset":0.2647,"color":"rgba(90,90,90,0.35)"},{"offset":0.2794,"color":"rgba(90,90,90,0)"},{"offset":0.2941,"color":"rgba(90,90,90,0.35)"},{"offset":0.3088,"color":"rgba(90,90,90,0)"},{"offset":0.3235,"color":"rgba(90,90,90,0.35)"},{"offset":0.3382,"color":"rgba(90,90,90,0)"},{"offset":0.3529,"color":"rgba(90,90,90,0.35)"},{"offset":0.3676,"color":"rgba(90,90,90,0)"},{"offset":0.3824,"color":"rgba(90,90,90,0.35)"},{"offset":0.3971,"color":"rgba(90,90,90,0)"},{"offset":0.4118,"color":"rgba(90,90,90,0.35)"},{"offset":0.4265,"color":"rgba(90,90,90,0)"},{"offset":0.4412,"color":"rgba(90,90,90,0.35)"},{"offset":0.4559,"color":"rgba(90,90,90,0)"},{"offset":0.4706,"color":"rgba(90,90,90,0.35)"},{"offset":0.4853,"color":"rgba(90,90,90,0)"},{"offset":0.5,"color":"rgba(90,90,90,0.35)"},{"offset":0.5147,"color":"rgba(90,90,90,0)"},{"offset":0.5294,"color":"rgba(90,90,90,0.35)"},{"offset":0.5441,"color":"rgba(90,90,90,0)"},{"offset":0.5588,"color":"rgba(90,90,90,0.35)"},{"offset":0.5735,"color":"rgba(90,90,90,0)"},{"offset":0.5882,"color":"rgba(90,90,90,0.35)"},{"offset":0.6029,"color":"rgba(90,90,90,0)"},{"offset":0.6176,"color":"rgba(90,90,90,0.35)"},{"offset":0.6324,"color":"rgba(90,90,90,0)"},{"offset":0.6471,"color":"rgba(90,90,90,0.35)"},{"offset":0.6618,"color":"rgba(90,90,90,0)"},{"offset":0.6765,"color":"rgba(90,90,90,0.35)"},{"offset":0.6912,"color":"rgba(90,90,90,0)"},{"offset":0.7059,"color":"rgba(90,90,90,0.35)"},{"offset":0.7206,"color":"rgba(90,90,90,0)"},{"offset":0.7353,"color":"rgba(90,90,90,0.35)"},{"offset":0.75,"color":"rgba(90,90,90,0)"},{"offset":0.7647,"color":"rgba(90,90,90,0.35)"},{"offset":0.7794,"color":"rgba(90,90,90,0)"},{"offset":0.7941,"color":"rgba(90,90,90,0.35)"},{"offset":0.8088,"color":"rgba(90,90,90,0)"},{"offset":0.8235,"color":"rgba(90,90,90,0.35)"},{"offset":0.8382,"color":"rgba(90,90,90,0)"},{"offset":0.8529,"color":"rgba(90,90,90,0.35)"},{"offset":0.8676,"color":"rgba(90,90,90,0)"},{"offset":0.8824,"color":"rgba(90,90,90,0.35)"},{"offset":0.8971,"color":"rgba(90,90,90,0)"},{"offset":0.9118,"color":"rgba(90,90,90,0.35)"},{"offset":0.9265,"color":"rgba(90,90,90,0)"},{"offset":0.9412,"color":"rgba(90,90,90,0.35)"},{"offset":0.9559,"color":"rgba(90,90,90,0)"},{"offset":0.9706,"color":"rgba(90,90,90,0.35)"},{"offset":0.9853,"color":"rgba(90,90,90,0)"},{"offset":1,"color":"rgba(90,90,90,0.35)"}]}},
     "encoding":{"y":{"field":"mean","type":"quantitative"}}},
    {"mark":{"type":"rule","color":"#111111","strokeWidth":1.3},"encoding":{"y":{"field":"mean","type":"quantitative"},"y2":{"field":"upper"}}},
    {"mark":{"type":"tick","color":"#111111","size":9,"thickness":1.3},"encoding":{"y":{"field":"upper","type":"quantitative"}}},
    {"mark":{"type":"text","fontSize":26,"fontWeight":"bold","dy":5,"baseline":"alphabetic","color":"#111111"},"encoding":{"y":{"field":"upper","type":"quantitative"},"text":{"field":"sig"}}}
   ]
  }
 ],
 "spacing":0,
 "bounds":"flush"
 }
 ],
 "spacing":276,
 "bounds":"flush"
}
]
}
